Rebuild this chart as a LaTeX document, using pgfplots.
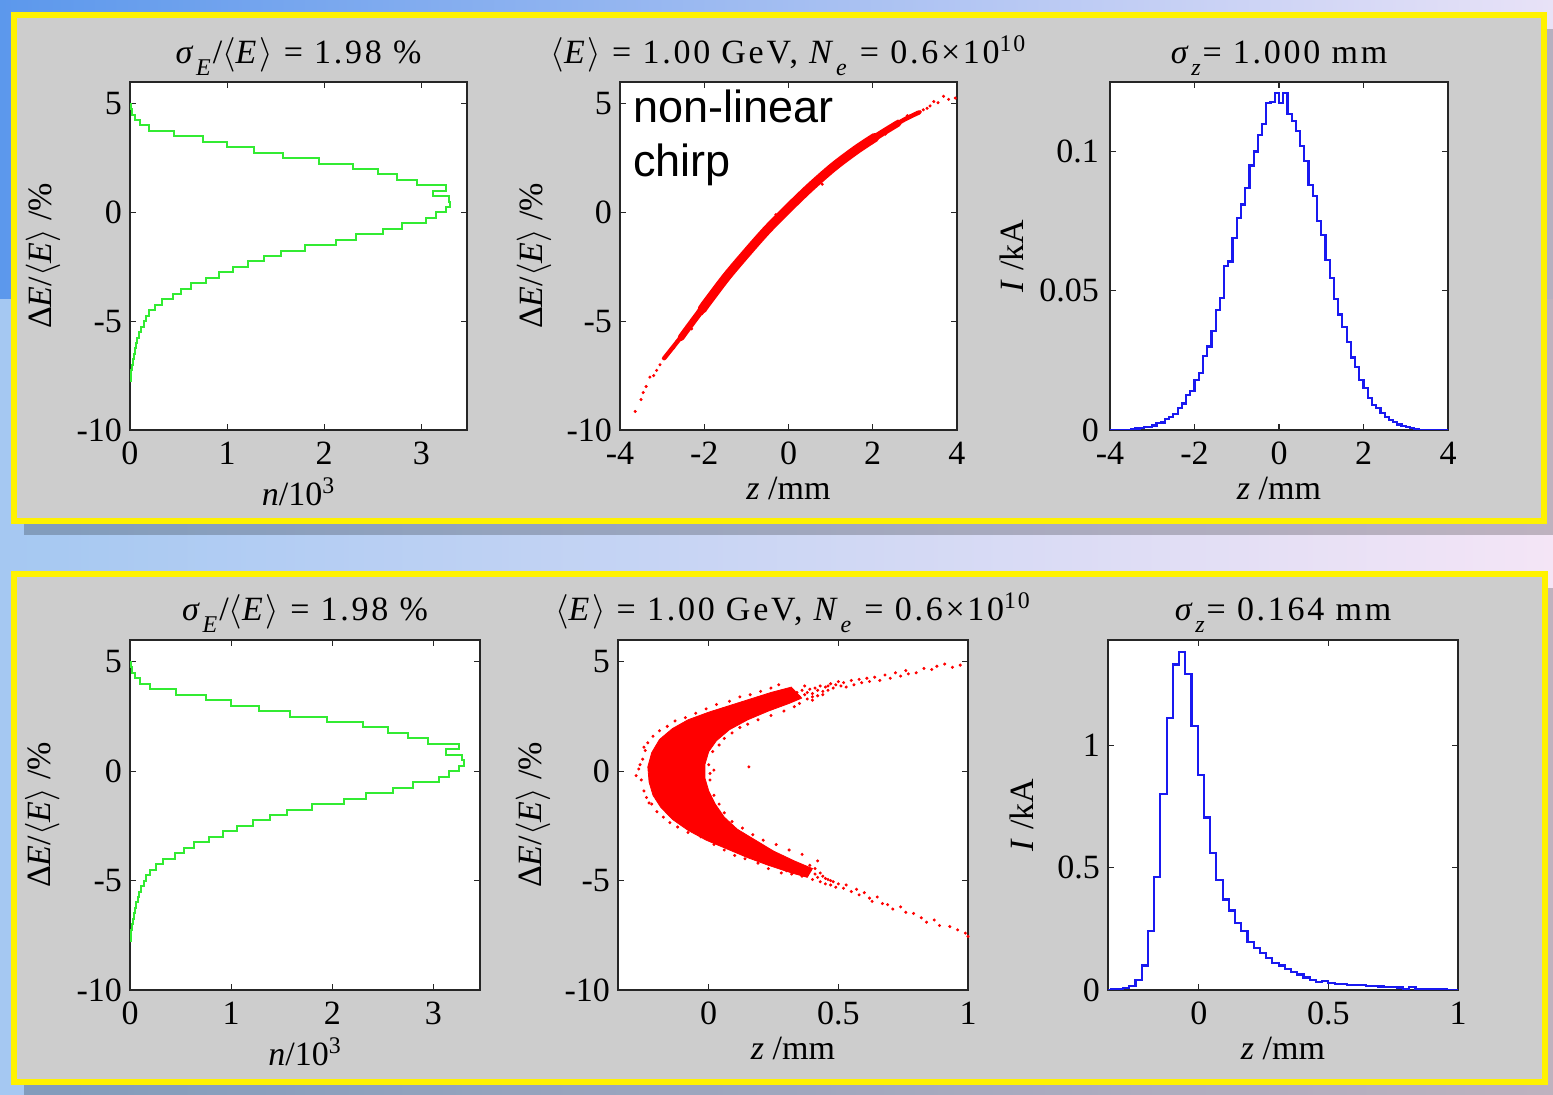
\documentclass[border=0pt]{standalone}
\usepackage{pgfplots}
\usepackage{pgfplotstable}
\pgfplotsset{compat=1.18}
\usepackage{fontspec}
\setmainfont{Liberation Serif}
\newfontfamily\arialfont{Liberation Sans}
\newfontfamily\titlefont{Liberation Serif}[LetterSpace=8]
\newcommand{\la}{\ensuremath{\langle}}
\newcommand{\ra}{\ensuremath{\rangle}}
\newcommand{\sub}[1]{\raisebox{-0.75ex}{\fontsize{12}{12}\selectfont\textit{#1}}}
\definecolor{mgreen}{RGB}{50,235,50}
\definecolor{mblue}{RGB}{25,25,240}
\definecolor{panelgray}{RGB}{205,205,205}
\definecolor{bgA}{RGB}{92,152,236}
\definecolor{bgB}{RGB}{232,226,247}
\definecolor{bgC}{RGB}{165,200,242}
\definecolor{bgD}{RGB}{244,229,246}

\pgfplotsset{
  mat/.style={
    scale only axis,
    anchor=south west,
    axis background/.style={fill=white},
    axis line style={draw=black!85, line width=0.8pt},
    tick align=inside,
    major tick length=3pt,
    tick style={black!85, line width=0.6pt},
    font=\fontsize{17}{20}\selectfont,
    /pgf/number format/assume math mode=true,
    xticklabel style={anchor=base, yshift=-17.5pt},
    yticklabel style={xshift=-0.5pt},
    title style={at={(0.5,1)}, anchor=base, yshift=3pt, font=\titlefont\fontsize{17}{20}\selectfont},
    xlabel style={at={(axis description cs:0.5,0)}, anchor=base, yshift=-35pt},
  }
}

% energy histogram: count (10^3) and dE (%) at bin edges
\pgfplotstableread{
n dE
0.000 -7.75
0.006 -7.75
0.006 -7.50
0.012 -7.50
0.012 -7.25
0.020 -7.25
0.020 -7.00
0.028 -7.00
0.028 -6.75
0.040 -6.75
0.040 -6.50
0.050 -6.50
0.050 -6.25
0.060 -6.25
0.060 -6.00
0.075 -6.00
0.075 -5.75
0.090 -5.75
0.090 -5.50
0.110 -5.50
0.110 -5.25
0.140 -5.25
0.140 -5.00
0.160 -5.00
0.160 -4.75
0.200 -4.75
0.200 -4.50
0.260 -4.50
0.260 -4.25
0.330 -4.25
0.330 -4.00
0.440 -4.00
0.440 -3.75
0.530 -3.75
0.530 -3.50
0.630 -3.50
0.630 -3.25
0.780 -3.25
0.780 -3.00
0.920 -3.00
0.920 -2.75
1.060 -2.75
1.060 -2.50
1.220 -2.50
1.220 -2.25
1.380 -2.25
1.380 -2.00
1.550 -2.00
1.550 -1.75
1.800 -1.75
1.800 -1.50
2.120 -1.50
2.120 -1.25
2.330 -1.25
2.330 -1.00
2.600 -1.00
2.600 -0.75
2.800 -0.75
2.800 -0.50
3.050 -0.50
3.050 -0.25
3.150 -0.25
3.150 0.00
3.250 0.00
3.250 0.25
3.300 0.25
3.300 0.50
3.280 0.50
3.280 0.75
3.120 0.75
3.120 1.00
3.250 1.00
3.250 1.25
2.950 1.25
2.950 1.50
2.750 1.50
2.750 1.75
2.550 1.75
2.550 2.00
2.300 2.00
2.300 2.25
1.950 2.25
1.950 2.50
1.580 2.50
1.580 2.75
1.280 2.75
1.280 3.00
1.000 3.00
1.000 3.25
0.750 3.25
0.750 3.50
0.450 3.50
0.450 3.75
0.200 3.75
0.200 4.00
0.100 4.00
0.100 4.25
0.050 4.25
0.050 4.50
0.020 4.50
0.020 4.75
0.008 4.75
0.008 5.00
0.000 5.00
}\ehist

% current, uncompressed: bin left edge z (mm), I (kA)
\pgfplotstableread{
z I
-4.0 0
-3.7 0.0001
-3.6 0.0001
-3.5 0.0002
-3.4 0.0005
-3.3 0.0006
-3.2 0.0010
-3.1 0.0012
-3.0 0.0016
-2.9 0.0025
-2.8 0.0027
-2.7 0.0040
-2.6 0.0048
-2.5 0.0058
-2.4 0.0080
-2.3 0.0095
-2.2 0.0125
-2.1 0.0140
-2.0 0.0180
-1.9 0.0205
-1.8 0.0265
-1.7 0.0300
-1.6 0.0355
-1.5 0.0430
-1.4 0.0475
-1.3 0.0590
-1.2 0.0605
-1.1 0.0690
-1.0 0.0760
-0.9 0.0810
-0.8 0.0870
-0.7 0.0950
-0.6 0.1000
-0.5 0.1060
-0.4 0.1100
-0.3 0.1175
-0.2 0.1178
-0.1 0.1210
0.0 0.1175
0.1 0.1210
0.2 0.1135
0.3 0.1110
0.4 0.1075
0.5 0.1020
0.6 0.0965
0.7 0.0880
0.8 0.0840
0.9 0.0750
1.0 0.0700
1.1 0.0610
1.2 0.0545
1.3 0.0470
1.4 0.0415
1.5 0.0370
1.6 0.0315
1.7 0.0260
1.8 0.0225
1.9 0.0180
2.0 0.0150
2.1 0.0115
2.2 0.0090
2.3 0.0078
2.4 0.0062
2.5 0.0048
2.6 0.0035
2.7 0.0028
2.8 0.0020
2.9 0.0015
3.0 0.0010
3.1 0.0006
3.2 0.0003
3.3 0.0001
3.4 0
4.0 0
}\curA

% current, compressed
\pgfplotstableread{
z I
-0.350 0
-0.340 0.002
-0.316 0.005
-0.292 0.009
-0.268 0.015
-0.244 0.040
-0.220 0.100
-0.196 0.240
-0.172 0.460
-0.148 0.800
-0.124 1.110
-0.100 1.330
-0.076 1.380
-0.052 1.290
-0.028 1.080
-0.004 0.880
0.020 0.705
0.044 0.560
0.068 0.450
0.092 0.370
0.116 0.325
0.140 0.275
0.164 0.240
0.188 0.197
0.212 0.172
0.236 0.150
0.260 0.130
0.284 0.110
0.308 0.100
0.332 0.085
0.356 0.073
0.380 0.063
0.404 0.051
0.428 0.041
0.452 0.032
0.476 0.038
0.500 0.029
0.524 0.026
0.548 0.023
0.572 0.022
0.596 0.020
0.620 0.019
0.644 0.016
0.668 0.015
0.692 0.014
0.716 0.013
0.740 0.012
0.764 0.010
0.788 0.003
0.812 0.012
0.836 0.003
0.860 0.003
0.884 0.002
0.908 0.002
0.932 0.002
0.956 0.001
1.000 0.001
}\curB

\begin{document}
\begin{tikzpicture}
\useasboundingbox (0,0) rectangle (776.5pt,547.5pt);
% background
\shade[left color=bgA, right color=bgB] (0,397.5pt) rectangle (776.5pt,547.5pt);
\shade[left color=bgC, right color=bgD] (0,0) rectangle (776.5pt,397.5pt);
% shadows
\fill[black, opacity=0.22] (11.75pt,280pt) rectangle (777pt,533pt);
\fill[black, opacity=0.22] (11.75pt,-0.5pt) rectangle (777.5pt,253.5pt);
% panels
\filldraw[fill=panelgray, draw=yellow, line width=3pt] (6.75pt,287pt) rectangle (772pt,540pt);
\filldraw[fill=panelgray, draw=yellow, line width=3pt] (6.75pt,6.5pt) rectangle (772.5pt,260.5pt);

% ---------- top row ----------
\begin{axis}[mat, at={(65pt,332.5pt)}, width=168.5pt, height=174pt,
  xmin=0, xmax=3.47, ymin=-10, ymax=6,
  xtick={0,1,2,3}, ytick={-10,-5,0,5},
  title={\textit{σ}\sub{E}/\la\textit{E}\ra{} = 1.98 \%},
  xlabel={\textit{n}/10\textsuperscript{3}},
  xlabel style={yshift=-3pt},
  ylabel={Δ\textit{E}/\la\textit{E}\ra{} /\%},
  ylabel style={at={(axis description cs:-0.258,0.5)}, anchor=center}]
\addplot[mgreen, line width=1pt] table[x=n, y=dE] {\ehist};
\end{axis}

\begin{axis}[mat, at={(310pt,332.5pt)}, width=168.5pt, height=174pt,
  xmin=-4, xmax=4, ymin=-10, ymax=6,
  xtick={-4,-2,0,2,4}, ytick={-10,-5,0,5},
  title={\la\textit{E}\ra{} = 1.00 GeV, \textit{N}\sub{e} = 0.6×10\textsuperscript{10}},
  xlabel={\textit{z} /mm},
  ylabel={Δ\textit{E}/\la\textit{E}\ra{} /\%},
  ylabel style={at={(axis description cs:-0.255,0.5)}, anchor=center}]
\addplot[red, line width=2.2pt, smooth, line cap=round] coordinates {
(-2.95,-6.7) (-2.42,-5.4) (-1.94,-4.15) (-1.47,-2.95) (-0.99,-1.85) (-0.51,-0.8)
(0,0.2) (0.51,1.15) (1.07,2.1) (1.62,2.9) (2.18,3.6) (2.73,4.25) (3.1,4.6)};
\addplot[red, line width=3.4pt, smooth, line cap=round] coordinates {
(-2.55,-5.75) (-2.42,-5.4) (-1.94,-4.15) (-1.47,-2.95) (-0.99,-1.85) (-0.51,-0.8)
(0,0.2) (0.51,1.15) (1.07,2.1) (1.62,2.9) (2.18,3.6) (2.6,4.1)};
\addplot[red, line width=4.6pt, smooth, line cap=round] coordinates {
(-2.05,-4.45) (-1.94,-4.15) (-1.47,-2.95) (-0.99,-1.85) (-0.51,-0.8)
(0,0.2) (0.51,1.15) (1.07,2.1) (1.62,2.9) (2.05,3.45)};
\addplot[only marks, mark=*, mark size=0.55pt, red] coordinates {
(-3.64,-9.15) (-3.5,-8.6) (-3.45,-8.28) (-3.38,-8.0) (-3.29,-7.57) (-3.2,-7.5)
(-3.13,-7.26) (-3.05,-7.0) (-2.97,-6.71) (-2.92,-6.6) (-2.85,-6.47) (-2.8,-6.3)
(-2.73,-6.24) (-2.68,-6.05) (-2.65,-5.92) (-2.58,-5.8) (-2.5,-5.53) (-2.45,-5.6)
(-2.3,-5.35) (-2.05,-4.65) (-1.6,-3.4) (-1.2,-2.45) (-0.3,-0.1) (0.8,1.3)
(1.4,2.75) (2.3,3.6)
(2.4,3.95) (2.6,4.2) (2.75,4.3) (2.82,4.45) (2.9,4.4) (2.97,4.47) (3.05,4.6)
(3.13,4.63) (3.2,4.72) (3.29,4.79) (3.36,4.9) (3.45,5.10) (3.55,5.05) (3.68,5.34)
(3.8,5.2) (3.96,5.26)};
\node[anchor=base west, inner sep=0pt, font=\arialfont\fontsize{22.5}{27}\selectfont] at (axis cs:-3.69,4.13) {non-linear};
\node[anchor=base west, inner sep=0pt, font=\arialfont\fontsize{22.5}{27}\selectfont] at (axis cs:-3.69,1.65) {chirp};
\end{axis}

\begin{axis}[mat, at={(555pt,332.5pt)}, width=169pt, height=174pt,
  xmin=-4, xmax=4, ymin=0, ymax=0.125,
  xtick={-4,-2,0,2,4}, ytick={0,0.05,0.1}, yticklabels={0,0.05,0.1},
  yticklabel style={xshift=-1.5pt},
  title={\textit{σ}\sub{z}= 1.000 mm},
  xlabel={\textit{z} /mm},
  ylabel={\textit{I} /kA},
  ylabel style={at={(axis description cs:-0.29,0.5)}, anchor=center}]
\addplot[mblue, line width=1.1pt, const plot] table[x=z, y=I] {\curA};
\end{axis}

% ---------- bottom row ----------
\begin{axis}[mat, at={(65pt,52.5pt)}, width=175pt, height=175pt,
  xmin=0, xmax=3.46, ymin=-10, ymax=6,
  xtick={0,1,2,3}, ytick={-10,-5,0,5},
  title={\textit{σ}\sub{E}/\la\textit{E}\ra{} = 1.98 \%},
  title style={yshift=0.5pt},
  xlabel={\textit{n}/10\textsuperscript{3}},
  xlabel style={yshift=-3pt},
  ylabel={Δ\textit{E}/\la\textit{E}\ra{} /\%},
  ylabel style={at={(axis description cs:-0.251,0.5)}, anchor=center}]
\addplot[mgreen, line width=1pt] table[x=n, y=dE] {\ehist};
\end{axis}

\begin{axis}[mat, at={(309pt,52.5pt)}, width=175pt, height=175pt,
  xmin=-0.35, xmax=1, ymin=-10, ymax=6,
  xtick={0,0.5,1}, xticklabels={0,0.5,1}, ytick={-10,-5,0,5},
  title={\la\textit{E}\ra{} = 1.00 GeV, \textit{N}\sub{e} = 0.6×10\textsuperscript{10}},
  title style={yshift=0.5pt},
  xlabel={\textit{z} /mm},
  ylabel={Δ\textit{E}/\la\textit{E}\ra{} /\%},
  ylabel style={at={(axis description cs:-0.243,0.5)}, anchor=center}]
\addplot[fill=red, draw=red, line width=0.4pt] coordinates {
(0.32,3.85) (0.24,3.60) (0.16,3.30) (0.08,3.00) (0.00,2.70) (-0.08,2.35)
(-0.14,1.95) (-0.19,1.45) (-0.22,0.85) (-0.235,0.20) (-0.23,-0.50) (-0.215,-1.10)
(-0.185,-1.65) (-0.14,-2.20) (-0.08,-2.70) (-0.01,-3.15) (0.07,-3.55) (0.15,-3.95)
(0.23,-4.30) (0.32,-4.65) (0.38,-4.85)
(0.40,-4.45) (0.33,-4.10) (0.25,-3.65) (0.18,-3.15) (0.11,-2.65) (0.06,-2.10)
(0.025,-1.50) (0.00,-0.90) (-0.015,-0.30) (-0.015,0.30) (0.00,0.90) (0.03,1.40)
(0.08,1.90) (0.15,2.35) (0.23,2.75) (0.31,3.10) (0.36,3.35)};
\addplot[only marks, mark=*, mark size=0.55pt, red] coordinates {
(-0.27,0.1) (-0.26,-0.4) (-0.255,0.55) (-0.25,-0.9) (-0.245,0.95) (-0.24,-1.2)
(-0.235,1.3) (-0.22,-1.5) (-0.215,1.6) (-0.20,-1.85) (-0.19,1.85) (-0.175,-2.1)
(-0.16,2.05) (-0.15,-2.35) (-0.13,2.3) (-0.12,-2.55) (-0.09,2.45) (-0.08,-2.8)
(-0.05,2.65) (-0.03,-3.0) (-0.01,2.85) (0.02,-3.35) (0.03,3.05) (0.06,-3.6)
(0.08,3.2) (0.10,-3.85) (0.12,3.4) (0.14,-4.0) (0.16,3.5) (0.19,-4.2)
(0.20,3.65) (0.23,-4.45) (0.24,3.8) (0.28,-4.65) (0.27,3.95) (-0.28,-0.2)
(-0.265,0.3) (-0.25,1.1) (-0.23,-1.45)
(0.00,0.3) (0.005,-0.4) (0.015,0.9) (0.02,-1.1) (0.04,1.2) (0.04,-1.5)
(0.06,1.5) (0.06,-1.9) (0.09,1.75) (0.09,-2.3) (0.12,2.0) (0.13,-2.6)
(0.15,2.15) (0.17,-2.9) (0.19,2.35) (0.21,-3.15) (0.24,2.55) (0.26,-3.35)
(0.29,2.75) (0.31,-3.6) (0.33,2.95) (0.155,0.2) (0.005,-0.1) (0.02,0.05)
(0.35,3.1) (0.36,-3.8) (0.4,3.25) (0.42,-4.1)
(0.26,3.4) (0.27,3.1) (0.28,3.6) (0.29,3.25) (0.30,3.45) (0.31,3.2)
(0.32,3.55) (0.33,3.35) (0.34,3.6) (0.35,3.4) (0.36,3.7) (0.37,3.5)
(0.38,3.3) (0.39,3.75) (0.40,3.55) (0.41,3.8) (0.42,3.45) (0.43,3.9)
(0.44,3.65) (0.45,3.85) (0.46,3.7) (0.47,4.0) (0.48,3.8) (0.49,3.95)
(0.50,4.1) (0.51,3.9) (0.52,4.05) (0.53,3.85) (0.55,4.15) (0.56,3.95)
(0.58,4.2) (0.59,4.05) (0.61,4.25) (0.62,4.1) (0.64,4.3) (0.66,4.15)
(0.68,4.4) (0.70,4.25) (0.72,4.5) (0.74,4.35) (0.76,4.6) (0.77,4.45)
(0.80,4.5) (0.83,4.7) (0.86,4.65) (0.88,4.8) (0.91,4.9) (0.94,4.75) (0.97,4.85)
(0.38,3.6) (0.40,3.4) (0.42,3.7) (0.44,3.5) (0.46,3.9) (0.37,3.9)
(0.30,-4.55) (0.31,-4.2) (0.32,-4.7) (0.33,-4.4) (0.34,-4.6) (0.35,-4.35)
(0.36,-4.8) (0.37,-4.5) (0.38,-4.75) (0.39,-4.55) (0.40,-4.95) (0.41,-4.7)
(0.42,-4.85) (0.43,-5.05) (0.44,-4.8) (0.45,-5.15) (0.46,-4.95) (0.47,-5.2)
(0.48,-5.05) (0.49,-5.3) (0.50,-5.15) (0.52,-5.35) (0.53,-5.2) (0.55,-5.5)
(0.57,-5.4) (0.58,-5.65) (0.60,-5.55) (0.62,-5.8) (0.63,-5.95) (0.65,-5.75)
(0.67,-6.05) (0.69,-6.1) (0.71,-6.3) (0.74,-6.2) (0.76,-6.45) (0.79,-6.5)
(0.82,-6.7) (0.84,-6.9) (0.87,-6.8) (0.89,-7.05) (0.93,-7.1) (0.96,-7.25)
(0.99,-7.4) (1.0,-7.55)
(0.41,-4.45) (0.43,-4.65) (0.45,-4.9) (0.47,-5.0) (0.39,-4.3)};
\end{axis}

\begin{axis}[mat, at={(554pt,52.5pt)}, width=175pt, height=175pt,
  xmin=-0.35, xmax=1, ymin=0, ymax=1.43,
  xtick={0,0.5,1}, xticklabels={0,0.5,1}, ytick={0,0.5,1}, yticklabels={0,0.5,1},
  title={\textit{σ}\sub{z}= 0.164 mm},
  title style={yshift=0.5pt},
  xlabel={\textit{z} /mm},
  ylabel={\textit{I} /kA},
  ylabel style={at={(axis description cs:-0.246,0.5)}, anchor=center}]
\addplot[mblue, line width=1.1pt, const plot] table[x=z, y=I] {\curB};
\end{axis}
\end{tikzpicture}
\end{document}
